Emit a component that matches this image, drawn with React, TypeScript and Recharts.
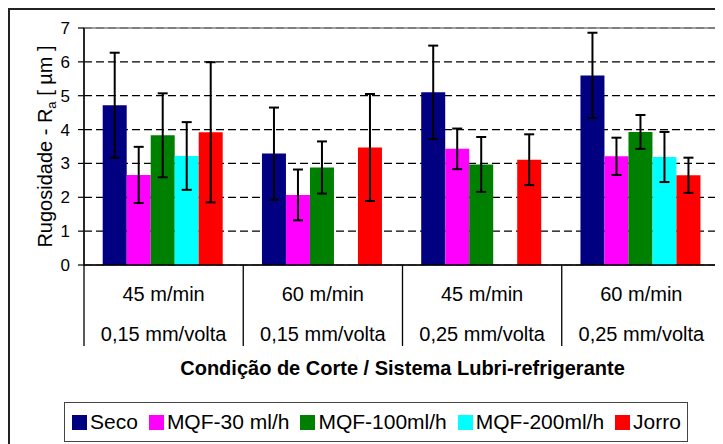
import React from 'react';
import { BarChart, Bar, XAxis, YAxis, CartesianGrid, ErrorBar, Legend, ReferenceArea } from 'recharts';

const FONT = '"Liberation Sans", Arial, Helvetica, sans-serif';

const speeds = ['45 m/min', '60 m/min', '45 m/min', '60 m/min'];
const feeds = ['0,15 mm/volta', '0,15 mm/volta', '0,25 mm/volta', '0,25 mm/volta'];

const seriesNames = ['Seco', 'MQF-30 ml/h', 'MQF-100ml/h', 'MQF-200ml/h', 'Jorro'];
const seriesColors = ['#000080', '#FF00FF', '#008000', '#00FFFF', '#FF0000'];

const seco = [4.72, 3.29, 5.1, 5.6];
const secoErr = [1.55, 1.36, 1.38, 1.26];
const mqf30 = [2.66, 2.07, 3.43, 3.21];
const mqf30Err = [0.83, 0.75, 0.6, 0.55];
const mqf100 = [3.83, 2.88, 2.97, 3.93];
const mqf100Err = [1.24, 0.77, 0.81, 0.5];
const mqf200 = [3.22, null, null, 3.19];
const mqf200Err = [1.0, null, null, 0.74];
const jorro = [3.92, 3.47, 3.11, 2.65];
const jorroErr = [2.07, 1.58, 0.75, 0.52];

const yTicks = [0, 1, 2, 3, 4, 5, 6, 7];

const values = [seco, mqf30, mqf100, mqf200, jorro];
const errors = [secoErr, mqf30Err, mqf100Err, mqf200Err, jorroErr];

const data = speeds.map((s, i) => {
  const row: any = { cat: s + '|' + feeds[i], speed: s, feed: feeds[i] };
  values.forEach((arr, k) => {
    row['v' + k] = arr[i];
    row['e' + k] = errors[k][i];
  });
  return row;
});

const CatTick = (props: any) => {
  const { x, y, payload } = props;
  const half = payload && typeof payload.offset === 'number' && payload.offset > 0 ? payload.offset : 79.6;
  const idx = payload ? payload.index : 0;
  const parts = String(payload.value).split('|');
  return (
    <g>
      <line x1={x - half} y1={y} x2={x - half} y2={y + 81} stroke="#000" strokeWidth={1.3} />
      {idx === speeds.length - 1 && (
        <line x1={x + half} y1={y} x2={x + half} y2={y + 81} stroke="#000" strokeWidth={1.3} />
      )}
      <text x={x} y={y + 36} textAnchor="middle" fontFamily={FONT} fontSize={20} fill="#000">
        {parts[0]}
      </text>
      <text x={x} y={y + 76} textAnchor="middle" fontFamily={FONT} fontSize={20} fill="#000">
        {parts[1]}
      </text>
    </g>
  );
};

const XTitle = (props: any) => {
  const vb = props.viewBox || { x: 76, y: 257, width: 637, height: 179 };
  return (
    <text x={vb.x + vb.width / 2} y={vb.y + 110} textAnchor="middle" fontFamily={FONT} fontSize={20} fontWeight="bold" fill="#000">
      Condição de Corte / Sistema Lubri-refrigerante
    </text>
  );
};

const YTitle = (props: any) => {
  const vb = props.viewBox || { x: 0, y: 20, width: 76, height: 237 };
  const cx = 44;
  const cy = vb.y + vb.height / 2;
  return (
    <text x={cx} y={cy} transform={`rotate(-90 ${cx} ${cy})`} textAnchor="middle" fontFamily={FONT} fontSize={20} fill="#000">
      Rugosidade - R
      <tspan fontSize={13} dy={4}>a</tspan>
      <tspan dy={-4}> [ µm ]</tspan>
    </text>
  );
};

const renderLegend = (props: any) => {
  const raw = props.payload || [];
  const payload = seriesNames
    .map((n) => raw.find((e: any) => e.value === n))
    .filter((e: any) => !!e);
  return (
    <div
      style={{
        boxSizing: 'border-box',
        width: 624,
        height: 40,
        border: '1.5px solid #444',
        background: '#fff',
        display: 'flex',
        alignItems: 'center',
        paddingLeft: 7,
        fontFamily: FONT,
        fontSize: 21,
        color: '#000',
        whiteSpace: 'nowrap',
      }}
    >
      {payload.map((e: any, i: number) => (
        <span key={i} style={{ display: 'inline-flex', alignItems: 'center', marginRight: 11 }}>
          <span style={{ display: 'inline-block', width: 15, height: 15, background: e.color, marginRight: 3 }} />
          {e.value}
        </span>
      ))}
    </div>
  );
};

export default function App() {
  return (
    <div style={{ position: 'relative', width: 715, height: 436 }}>
      <BarChart
        width={715}
        height={436}
        data={data}
        margin={{ top: 20, right: 2, left: 0, bottom: 0 }}
        barCategoryGap="11.75%"
        barGap={0}
      >
        <ReferenceArea y1={0} y2={7} fill="none" stroke="#808080" strokeWidth={1.5} ifOverflow="visible" />
        <CartesianGrid vertical={false} stroke="#000" strokeDasharray="8 4" strokeWidth={1.2} />
        <XAxis
          dataKey="cat"
          height={179}
          tickSize={0}
          tickMargin={0}
          tickLine={false}
          interval={0}
          axisLine={{ stroke: '#000', strokeWidth: 1.5 }}
          tick={<CatTick />}
          label={<XTitle />}
        />
        <YAxis
          width={76}
          domain={[0, 7]}
          ticks={yTicks}
          interval={0}
          tickSize={6}
          tickMargin={8}
          axisLine={{ stroke: '#000', strokeWidth: 1.5 }}
          tickLine={{ stroke: '#000', strokeWidth: 1.2 }}
          tick={{ fontFamily: FONT, fontSize: 17, fill: '#000' }}
          label={<YTitle />}
        />
        {seriesNames.map((name, k) => (
          <Bar key={name} dataKey={'v' + k} name={name} fill={seriesColors[k]} isAnimationActive={false}>
            <ErrorBar dataKey={'e' + k} width={5} stroke="#000" strokeWidth={2} direction="y" isAnimationActive={false} />
          </Bar>
        ))}
        <Legend
          layout="vertical"
          align="center"
          verticalAlign="middle"
          itemSorter="dataKey"
          content={renderLegend}
          wrapperStyle={{ left: 56, top: 394, width: 624, height: 40 }}
        />
      </BarChart>
      <div
        style={{
          position: 'absolute',
          left: 0,
          top: 0,
          width: 715,
          height: 436,
          boxSizing: 'border-box',
          borderTop: '2px solid #222',
          borderLeft: '2px solid #222',
          pointerEvents: 'none',
        }}
      />
    </div>
  );
}
